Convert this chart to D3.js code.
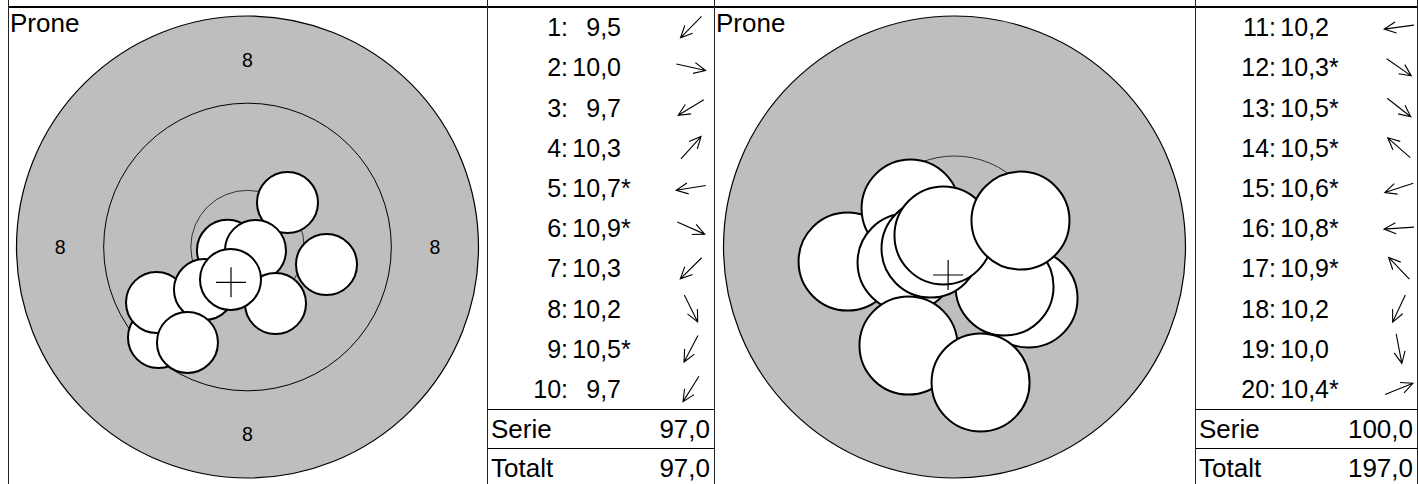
<!DOCTYPE html>
<html><head><meta charset="utf-8">
<script src="https://cdn.jsdelivr.net/npm/d3@7"></script>
<style>
body{margin:0;background:#fff}
svg{display:block}
text{font-family:"Liberation Sans",Arial,Helvetica,sans-serif;fill:#000}
</style>
</head><body>
<svg id="c" width="1418" height="484"></svg>
<script>
// ---- data (shot positions in mm from target centre, x right, y up) ----
const series1Shots  = [1,2,3,4,5,6,7,8,9,10];
const series1Scores = [9.5,10.0,9.7,10.3,10.7,10.9,10.3,10.2,10.5,9.7];
const series1Inner  = [false,false,false,false,true,true,false,false,true,false];
const series1X      = [-8.17,7.25,-8.35,3.67,-1.84,0.73,-3.95,2.57,-1.56,-5.51];
const series1Y      = [-8.31,-1.61,-5.09,4.08,-0.30,-0.32,-3.90,-5.19,-2.98,-8.76];

const series2Shots  = [11,12,13,14,15,16,17,18,19,20];
const series2Scores = [10.2,10.3,10.5,10.5,10.6,10.8,10.9,10.2,10.0,10.4];
const series2Inner  = [false,true,true,true,true,true,true,false,false,true];
const series2X      = [-6.11,4.23,2.86,-2.51,-2.74,-1.37,-0.63,-2.63,1.49,3.77];
const series2Y      = [-0.83,-2.94,-2.26,2.20,-0.89,-0.09,0.66,-5.63,-7.74,1.51];

const ringNumbers   = [10,9,8];          // ring value
const ringRadiiMm   = [5.2,13.2,21.2];   // 50 m rifle ring radii
const bulletRadiusMm = 2.8;
const panelTitles   = ["Prone","Prone"];
const viewRadiusMm  = [21.2,13.2];       // zoom of each target
const labelRings    = [[8],[]];          // rings that carry a number
const sumLabels     = ["Serie","Totalt"];

// ---- layout ----
const svg = d3.select("#c");
const TOP = 7, BOTTOM = 487, ROWH = (409 - TOP) / 10, SUMH = 39, R = 231;
const panels = [
  {left: 8,   tableLeft: 487,  right: 714},
  {left: 714, tableLeft: 1195, right: 1417}
];
const series = [
  {shots: series1Shots, scores: series1Scores, inner: series1Inner, xs: series1X, ys: series1Y},
  {shots: series2Shots, scores: series2Scores, inner: series2Inner, xs: series2X, ys: series2Y}
];
const fmt = d3.formatLocale({decimal: ",", thousands: " ", grouping: [3], currency: ["", ""]}).format(".1f");

let running = 0;
panels.forEach((p, pi) => {
  const s = series[pi];
  const g = svg.append("g");
  const cx = (p.left + p.tableLeft) / 2, cy = (TOP + BOTTOM) / 2;
  const vm = viewRadiusMm[pi];
  const x = d3.scaleLinear().domain([-vm, vm]).range([cx - R, cx + R]);
  const y = d3.scaleLinear().domain([-vm, vm]).range([cy + R, cy - R]);
  const k = R / vm;

  // target face
  g.append("circle").attr("cx", cx).attr("cy", cy).attr("r", R)
    .attr("fill", "#bebebe").attr("stroke", "#000").attr("stroke-width", 1.2);
  ringRadiiMm.forEach((rm, i) => {
    if (rm < vm - 1e-6) {
      g.append("circle").attr("cx", cx).attr("cy", cy).attr("r", rm * k)
        .attr("fill", "none").attr("stroke", i === 0 ? "#333" : "#000").attr("stroke-width", 1);
    }
  });
  // ring numbers
  labelRings[pi].forEach(n => {
    const i = ringNumbers.indexOf(n);
    const rMid = ((ringRadiiMm[i] + ringRadiiMm[i - 1]) / 2) * k;
    [[0, -1], [-1, 0], [1, 0], [0, 1]].forEach(([dx, dy]) => {
      g.append("text").attr("x", cx + dx * rMid).attr("y", cy + dy * rMid)
        .attr("text-anchor", "middle").attr("dominant-baseline", "central")
        .attr("font-size", 19.5).text(n);
    });
  });

  // shots
  s.shots.forEach((n, i) => {
    g.append("circle").attr("cx", x(s.xs[i])).attr("cy", y(s.ys[i])).attr("r", bulletRadiusMm * k)
      .attr("fill", "#fff").attr("stroke", "#000").attr("stroke-width", 2);
  });
  // mean point of impact
  const mx = x(d3.mean(s.xs)), my = y(d3.mean(s.ys));
  g.append("path").attr("d", `M${mx - 15},${my}H${mx + 15}M${mx},${my - 15}V${my + 15}`)
    .attr("stroke", "#000").attr("stroke-width", 1.2).attr("fill", "none");

  g.append("text").attr("x", p.left + 2).attr("y", TOP + 25).attr("font-size", 26).text(panelTitles[pi]);

  // table
  s.shots.forEach((n, i) => {
    const yc = TOP + ROWH * (i + 0.5);
    const base = yc + 9;
    g.append("text").attr("x", p.tableLeft + 81).attr("y", base).attr("text-anchor", "end")
      .attr("font-size", 25).text(n + ":");
    g.append("text").attr("x", p.tableLeft + 134).attr("y", base).attr("text-anchor", "end")
      .attr("font-size", 25).text(fmt(s.scores[i]));
    if (s.inner[i]) {
      g.append("text").attr("x", p.tableLeft + 134).attr("y", base).attr("font-size", 25).text("*");
    }
    // direction arrow
    const a = Math.atan2(-s.ys[i], s.xs[i]);
    const ax = p.tableLeft + 204, L = 30, H = 13, HA = 0.44;
    const c = Math.cos(a), sn = Math.sin(a);
    const x0 = ax - c * L / 2, y0 = yc - sn * L / 2, x1 = ax + c * L / 2, y1 = yc + sn * L / 2;
    const hx1 = x1 - H * Math.cos(a - HA), hy1 = y1 - H * Math.sin(a - HA);
    const hx2 = x1 - H * Math.cos(a + HA), hy2 = y1 - H * Math.sin(a + HA);
    g.append("path").attr("d", `M${x0},${y0}L${x1},${y1}M${hx1},${hy1}L${x1},${y1}L${hx2},${hy2}`)
      .attr("stroke", "#000").attr("stroke-width", 1.1).attr("fill", "none");
  });

  const serie = d3.sum(s.scores, v => Math.floor(v));
  running += serie;
  [serie, running].forEach((v, j) => {
    const y0 = 409 + SUMH * j;
    g.append("line").attr("x1", p.tableLeft).attr("x2", p.right).attr("y1", y0 + 0.5).attr("y2", y0 + 0.5)
      .attr("stroke", "#000").attr("stroke-width", 1);
    g.append("text").attr("x", p.tableLeft + 4).attr("y", y0 + SUMH / 2 + 9).attr("font-size", 26).text(sumLabels[j]);
    g.append("text").attr("x", p.right - 4).attr("y", y0 + SUMH / 2 + 9).attr("text-anchor", "end")
      .attr("font-size", 26).text(fmt(v));
  });
});

// frame lines
svg.append("line").attr("x1", 8).attr("x2", 1418).attr("y1", TOP).attr("y2", TOP)
  .attr("stroke", "#000").attr("stroke-width", 2);
[8.5, 487.5, 714.5, 1195.5, 1417.5].forEach(xv => {
  svg.append("line").attr("x1", xv).attr("x2", xv).attr("y1", 0).attr("y2", 484)
    .attr("stroke", "#222").attr("stroke-width", 1);
});
</script>
</body></html>
